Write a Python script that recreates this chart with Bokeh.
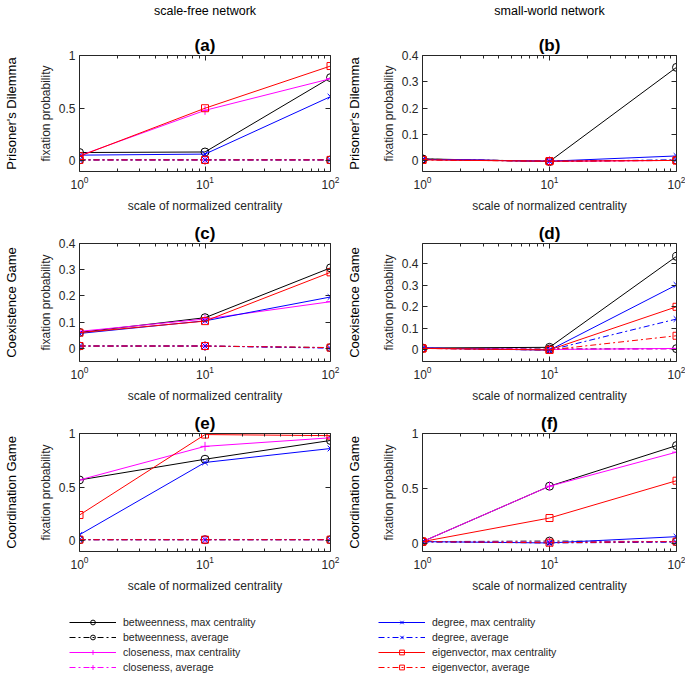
from bokeh.plotting import figure
from bokeh.models import (Range1d, LinearAxis, LogAxis, FixedTicker, Title,
                          Legend, LegendItem)
from bokeh.layouts import column, row
from bokeh.embed import file_html
from bokeh.resources import INLINE

# ---------------- data ----------------
x_scale = [1, 10, 100]
x_ticks = [1, 10, 100]
x_minor = [2, 3, 4, 5, 6, 7, 8, 9, 20, 30, 40, 50, 60, 70, 80, 90]

col_titles = ["scale-free network", "small-world network"]
row_labels = ["Prisoner's Dilemma", "Coexistence Game", "Coordination Game"]
panel_letters = ["(a)", "(b)", "(c)", "(d)", "(e)", "(f)"]
x_label = "scale of normalized centrality"
y_label = "fixation probability"

series_keys = ["betweenness", "closeness", "degree", "eigenvector"]
legend_labels = ["betweenness, max centrality", "betweenness, average",
                 "closeness, max centrality", "closeness, average",
                 "degree, max centrality", "degree, average",
                 "eigenvector, max centrality", "eigenvector, average"]

# (a) scale-free, Prisoner's Dilemma
a_btw_max = [0.080, 0.085, 0.790]
a_btw_avg = [0.010, 0.010, 0.010]
a_clo_max = [0.050, 0.480, 0.780]
a_clo_avg = [0.010, 0.010, 0.010]
a_deg_max = [0.055, 0.065, 0.610]
a_deg_avg = [0.010, 0.010, 0.010]
a_eig_max = [0.045, 0.500, 0.900]
a_eig_avg = [0.010, 0.010, 0.010]

# (b) small-world, Prisoner's Dilemma
b_btw_max = [0.008, -0.002, 0.355]
b_btw_avg = [0.007, -0.001, 0.003]
b_clo_max = [0.006, -0.001, 0.002]
b_clo_avg = [0.006, -0.001, 0.002]
b_deg_max = [0.006, -0.001, 0.019]
b_deg_avg = [0.005, -0.001, 0.004]
b_eig_max = [0.004, -0.001, 0.002]
b_eig_avg = [0.004, -0.001, 0.002]

# (c) scale-free, Coexistence Game
c_btw_max = [0.061, 0.117, 0.307]
c_btw_avg = [0.009, 0.009, 0.003]
c_clo_max = [0.065, 0.112, 0.178]
c_clo_avg = [0.009, 0.009, 0.002]
c_deg_max = [0.057, 0.105, 0.196]
c_deg_avg = [0.009, 0.009, 0.001]
c_eig_max = [0.060, 0.104, 0.290]
c_eig_avg = [0.009, 0.009, 0.003]

# (d) small-world, Coexistence Game
d_btw_max = [0.008, 0.011, 0.435]
d_btw_avg = [0.006, 0.003, 0.005]
d_clo_max = [0.007, 0.001, 0.006]
d_clo_avg = [0.006, 0.001, 0.004]
d_deg_max = [0.008, -0.002, 0.302]
d_deg_avg = [0.007, -0.002, 0.143]
d_eig_max = [0.006, -0.001, 0.200]
d_eig_avg = [0.006, -0.001, 0.065]

# (e) scale-free, Coordination Game
e_btw_max = [0.567, 0.760, 0.935]
e_btw_avg = [0.010, 0.010, 0.010]
e_clo_max = [0.567, 0.880, 0.960]
e_clo_avg = [0.010, 0.010, 0.010]
e_deg_max = [0.056, 0.730, 0.860]
e_deg_avg = [0.010, 0.010, 0.010]
e_eig_max = [0.240, 0.990, 0.980]
e_eig_avg = [0.010, 0.010, 0.010]

# (f) small-world, Coordination Game
f_btw_max = [0.015, 0.520, 0.890]
f_btw_avg = [0.015, 0.020, 0.015]
f_clo_max = [0.015, 0.520, 0.830]
f_clo_avg = [0.015, 0.010, 0.015]
f_deg_max = [0.015, 0.003, 0.060]
f_deg_avg = [0.012, 0.003, 0.010]
f_eig_max = [0.015, 0.230, 0.570]
f_eig_avg = [0.015, 0.005, 0.015]

# y ranges / ticks per panel
y_range_a = [-0.1, 1.0]
y_range_b = [-0.04, 0.4]
y_range_c = [-0.05, 0.4]
y_range_d = [-0.055, 0.495]
y_range_e = [-0.1, 1.0]
y_range_f = [-0.075, 1.0]
y_ticks_half = [0, 0.5, 1]
y_tick_labels_half = ["0", "0.5", "1"]
y_ticks_tenth = [0, 0.1, 0.2, 0.3, 0.4]
y_tick_labels_tenth = ["0", "0.1", "0.2", "0.3", "0.4"]

# ---------------- styles ----------------
FONT = "Liberation Sans"
AXC = "#262626"
colors = {"betweenness": "#000000", "closeness": "#FF00FF",
          "degree": "#0000FF", "eigenvector": "#FF0000"}
markers = {"betweenness": ("circle", 8), "closeness": ("cross", 9),
           "degree": ("x", 8), "eigenvector": ("square", 7)}
dashes = {"max": "solid", "avg": "6 3 2 3"}

panels = [
    dict(letter=panel_letters[0], col=0, rowi=0, yr=y_range_a, yt=y_ticks_half, yl=y_tick_labels_half,
         data={"betweenness": (a_btw_max, a_btw_avg), "closeness": (a_clo_max, a_clo_avg),
               "degree": (a_deg_max, a_deg_avg), "eigenvector": (a_eig_max, a_eig_avg)}),
    dict(letter=panel_letters[1], col=1, rowi=0, yr=y_range_b, yt=y_ticks_tenth, yl=y_tick_labels_tenth,
         data={"betweenness": (b_btw_max, b_btw_avg), "closeness": (b_clo_max, b_clo_avg),
               "degree": (b_deg_max, b_deg_avg), "eigenvector": (b_eig_max, b_eig_avg)}),
    dict(letter=panel_letters[2], col=0, rowi=1, yr=y_range_c, yt=y_ticks_tenth, yl=y_tick_labels_tenth,
         data={"betweenness": (c_btw_max, c_btw_avg), "closeness": (c_clo_max, c_clo_avg),
               "degree": (c_deg_max, c_deg_avg), "eigenvector": (c_eig_max, c_eig_avg)}),
    dict(letter=panel_letters[3], col=1, rowi=1, yr=y_range_d, yt=y_ticks_tenth, yl=y_tick_labels_tenth,
         data={"betweenness": (d_btw_max, d_btw_avg), "closeness": (d_clo_max, d_clo_avg),
               "degree": (d_deg_max, d_deg_avg), "eigenvector": (d_eig_max, d_eig_avg)}),
    dict(letter=panel_letters[4], col=0, rowi=2, yr=y_range_e, yt=y_ticks_half, yl=y_tick_labels_half,
         data={"betweenness": (e_btw_max, e_btw_avg), "closeness": (e_clo_max, e_clo_avg),
               "degree": (e_deg_max, e_deg_avg), "eigenvector": (e_eig_max, e_eig_avg)}),
    dict(letter=panel_letters[5], col=1, rowi=2, yr=y_range_f, yt=y_ticks_half, yl=y_tick_labels_half,
         data={"betweenness": (f_btw_max, f_btw_avg), "closeness": (f_clo_max, f_clo_avg),
               "degree": (f_deg_max, f_deg_avg), "eigenvector": (f_eig_max, f_eig_avg)}),
]


def style_axis(ax, ticks, labels=True):
    ax.axis_line_color = AXC
    ax.axis_line_width = 1
    ax.major_tick_line_color = AXC
    ax.minor_tick_line_color = AXC
    ax.major_tick_in = 5
    ax.major_tick_out = 0
    ax.minor_tick_in = 3
    ax.minor_tick_out = 0
    ax.major_label_text_font = FONT
    ax.major_label_text_color = AXC
    ax.major_label_text_font_size = "12px"
    ax.axis_label_text_font = FONT
    ax.axis_label_text_font_size = "12px"
    ax.axis_label_text_font_style = "normal"
    ax.axis_label_text_color = AXC
    if labels:
        ax.major_label_standoff = 4
    else:
        ax.major_label_overrides = {t: "" for t in ticks}
        ax.major_label_standoff = 0


def label_axis(ax, ticks, text, size, standoff):
    """An axis that only carries a label (used for row / column headings)."""
    style_axis(ax, ticks, labels=False)
    ax.major_label_text_font_size = "1px"
    ax.axis_line_color = None
    ax.major_tick_line_color = None
    ax.minor_tick_line_color = None
    ax.axis_label = text
    ax.axis_label_text_font_size = size
    ax.axis_label_text_color = "#000000"
    ax.axis_label_standoff = standoff


FRAME_H = 119
BOTTOM_B = 43


def make_panel(pp):
    first_row = pp["rowi"] == 0
    left_col = pp["col"] == 0
    top_b = 53 if first_row else 28
    height = top_b + FRAME_H + BOTTOM_B
    left_b = 76 if left_col else 82
    right_b = 10 if left_col else 9
    width = left_b + 254 + right_b
    p = figure(width=width, height=height, x_axis_type="log",
               x_range=Range1d(1, 100), y_range=Range1d(*pp["yr"]),
               output_backend="svg", toolbar_location=None,
               min_border_left=left_b, min_border_right=right_b,
               min_border_top=top_b, min_border_bottom=BOTTOM_B)
    p.grid.visible = False
    p.outline_line_color = None
    p.background_fill_color = "white"
    p.border_fill_color = "white"

    xa = p.xaxis[0]
    xa.ticker = FixedTicker(ticks=x_ticks, minor_ticks=x_minor)
    xa.axis_label = x_label
    style_axis(xa, x_ticks)
    xa.axis_label_standoff = 7

    ya = p.yaxis[0]
    ya.ticker = FixedTicker(ticks=pp["yt"])
    ya.major_label_overrides = {t: l for t, l in zip(pp["yt"], pp["yl"])}
    ya.axis_label = y_label
    style_axis(ya, pp["yt"])
    ya.axis_label_standoff = 3

    # mirrored box axes (ticks only)
    top = LogAxis(ticker=FixedTicker(ticks=x_ticks, minor_ticks=x_minor))
    style_axis(top, x_ticks, labels=False)
    p.add_layout(top, "above")
    right = LinearAxis(ticker=FixedTicker(ticks=pp["yt"]))
    style_axis(right, pp["yt"], labels=False)
    p.add_layout(right, "right")

    # row heading, outside the y axis label
    rl = LinearAxis(ticker=FixedTicker(ticks=pp["yt"]))
    label_axis(rl, pp["yt"], row_labels[pp["rowi"]], "13px", 17)
    p.add_layout(rl, "left")

    # panel letter
    p.add_layout(Title(text=pp["letter"], align="center", text_font=FONT,
                       text_font_size="17px", text_font_style="bold",
                       text_color="#000000", standoff=2), "above")
    # column heading, above the panel letter
    if first_row:
        cl = LogAxis(ticker=FixedTicker(ticks=x_ticks))
        label_axis(cl, x_ticks, col_titles[pp["col"]], "12.5px", 15)
        p.add_layout(cl, "above")

    for key in series_keys:
        mk, ms = markers[key]
        mx, av = pp["data"][key]
        for stat, yv in (("max", mx), ("avg", av)):
            p.line(x_scale, yv, line_color=colors[key], line_width=1, line_dash=dashes[stat])
            p.scatter(x_scale, yv, marker=mk, size=ms, line_color=colors[key],
                      fill_color=None, line_width=1)
    return p


figs = [make_panel(pp) for pp in panels]

# ---------------- legend ----------------
lf = figure(width=685, height=80, x_range=Range1d(0, 1), y_range=Range1d(0, 1),
            output_backend="svg", toolbar_location=None, min_border=0,
            x_axis_location=None, y_axis_location=None)
lf.grid.visible = False
lf.outline_line_color = None
items = []
for key in series_keys:
    mk, ms = markers[key]
    for stat in ("max", "avg"):
        lr = lf.line([-1, -1], [-1, -1], line_color=colors[key], line_width=1, line_dash=dashes[stat])
        sr = lf.scatter([-1], [-1], marker=mk, size=ms, line_color=colors[key],
                        fill_color=None, line_width=1)
        items.append((lr, sr))
leg_items = [LegendItem(label=legend_labels[i], renderers=list(items[i])) for i in range(8)]


def make_legend(its, loc):
    return Legend(items=its, location=loc, orientation="vertical",
                  label_text_font=FONT, label_text_font_size="10.5px",
                  label_text_color="#262626", glyph_width=47, glyph_height=12,
                  label_height=12, label_standoff=7, spacing=3, padding=0, margin=0,
                  border_line_color=None, background_fill_alpha=0)


lf.add_layout(make_legend(leg_items[:4], (69, 2)), "center")
lf.add_layout(make_legend(leg_items[4:], (378, 2)), "center")

layout = column(row(figs[0], figs[1]), row(figs[2], figs[3]), row(figs[4], figs[5]), lf)

open("out.html", "w").write(file_html(layout, INLINE))
